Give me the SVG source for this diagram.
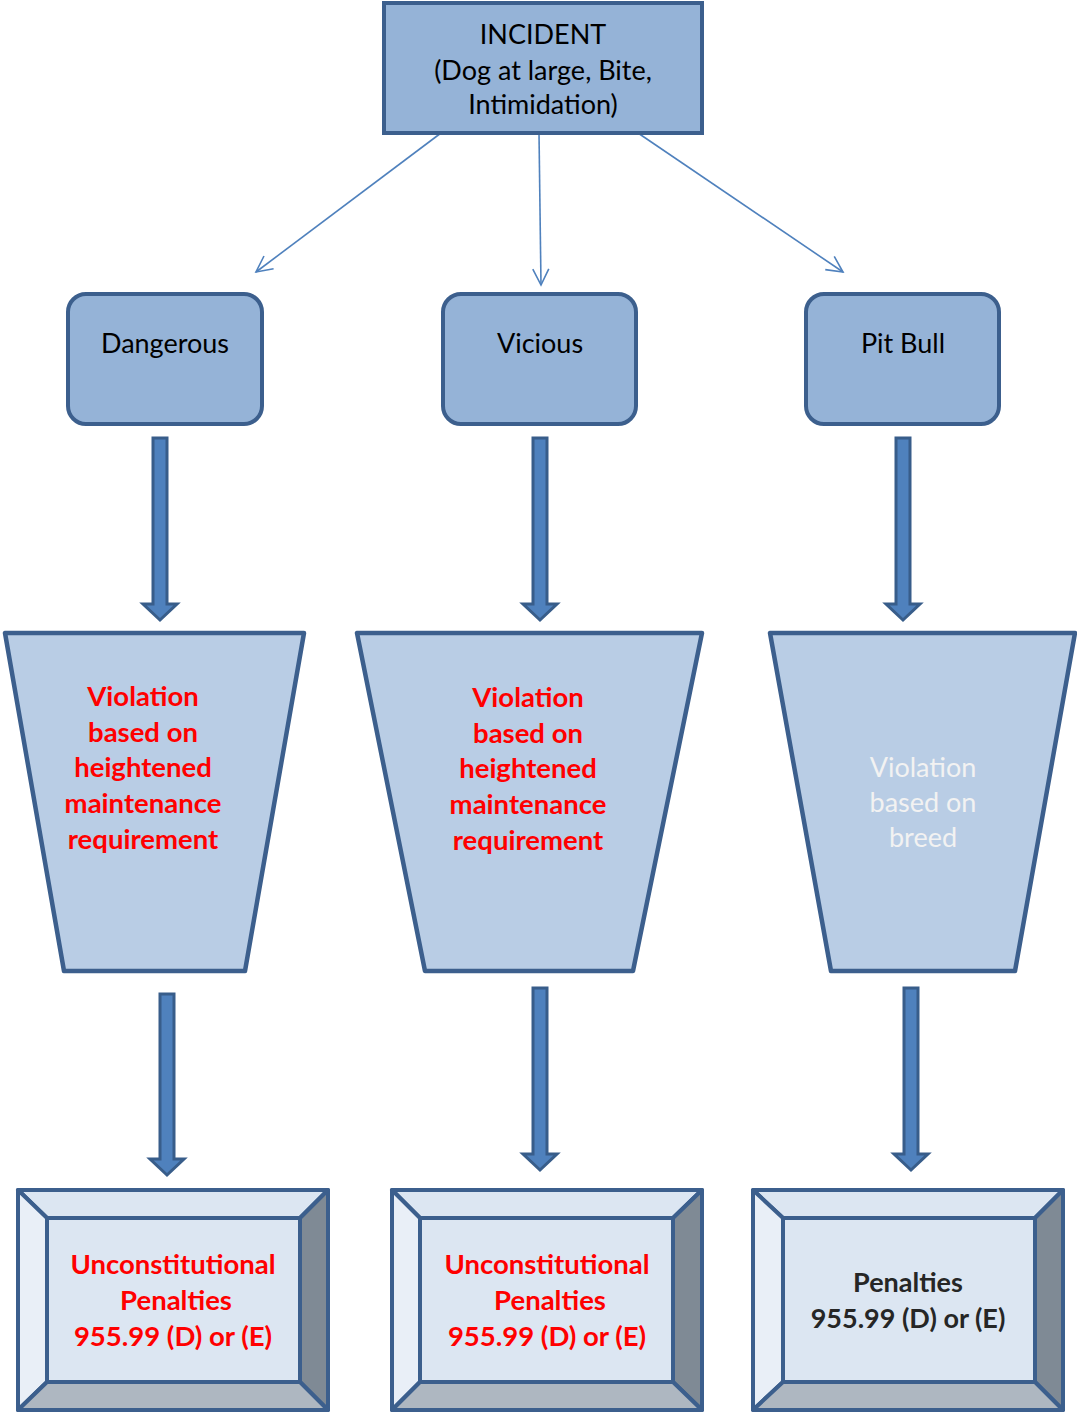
<svg xmlns="http://www.w3.org/2000/svg" width="1077" height="1414" viewBox="0 0 1077 1414">
<defs>
<style>
.t{font-family:Lato,"Open Sans","Liberation Sans",sans-serif;text-anchor:middle}
.blk{font-size:27px;fill:#000}
.red{font-size:27.5px;font-weight:bold;fill:#FF0000}
.wht{font-size:27px;fill:#F2F2F2}
.drk{font-size:27px;font-weight:bold;fill:#262626}
.box{fill:#95B3D7;stroke:#3C5F8D;stroke-width:4}
.trap{fill:#B9CDE5;stroke:#3C5F8D;stroke-width:4.5;stroke-linejoin:round}
.conn{stroke:#4F81BD;stroke-width:1.6;fill:none}
.barrow{fill:#4F81BD;stroke:#385D8A;stroke-width:3}
.bev{stroke:#3C5F8D;stroke-width:4;stroke-linejoin:round}
</style>
<marker id="open" viewBox="0 0 20 20" refX="18" refY="10" markerWidth="20" markerHeight="20" markerUnits="userSpaceOnUse" orient="auto">
<path d="M2,2 L18,10 L2,18" fill="none" stroke="#4F81BD" stroke-width="1.6"/>
</marker>
</defs>
<rect width="1077" height="1414" fill="#fff"/>

<g id="connectors">
<line class="conn" x1="441" y1="133" x2="256" y2="272" marker-end="url(#open)"/>
<line class="conn" x1="539" y1="133" x2="541" y2="285" marker-end="url(#open)"/>
<line class="conn" x1="638" y1="133" x2="843" y2="272" marker-end="url(#open)"/>
<path class="barrow" d="M153,438 H167 V604 H177 L160,620 L143,604 H153 Z"/>
<path class="barrow" d="M533,438 H547 V604 H557 L540,620 L523,604 H533 Z"/>
<path class="barrow" d="M896,438 H910 V604 H920 L903,620 L886,604 H896 Z"/>
<path class="barrow" d="M160,994 H174 V1159 H184 L167,1175 L150,1159 H160 Z"/>
<path class="barrow" d="M533,988 H547 V1154 H557 L540,1170 L523,1154 H533 Z"/>
<path class="barrow" d="M904,988 H918 V1154 H928 L911,1170 L894,1154 H904 Z"/>
</g>

<g id="incident">
<rect class="box" x="384" y="3" width="318" height="130"/>
<text class="t blk" x="543" y="44">INCIDENT</text>
<text class="t blk" x="543" y="80">(Dog at large, Bite,</text>
<text class="t blk" x="543" y="114">Intimidation)</text>
</g>

<g id="dangerous">
<rect class="box" x="68" y="294" width="194" height="130" rx="18"/>
<text class="t blk" x="165" y="353">Dangerous</text>
</g>
<g id="vicious">
<rect class="box" x="443" y="294" width="193" height="130" rx="18"/>
<text class="t blk" x="540" y="353">Vicious</text>
</g>
<g id="pitbull">
<rect class="box" x="806" y="294" width="193" height="130" rx="18"/>
<text class="t blk" x="903" y="353">Pit Bull</text>
</g>

<g id="violation1">
<path class="trap" d="M5,633 H304 L245,971 H64 Z"/>
<text class="t red" x="143" y="706">Violation</text>
<text class="t red" x="143" y="742">based on</text>
<text class="t red" x="143" y="777">heightened</text>
<text class="t red" x="143" y="813">maintenance</text>
<text class="t red" x="143" y="849">requirement</text>
</g>
<g id="violation2">
<path class="trap" d="M357,633 H702 L633,971 H425 Z"/>
<text class="t red" x="528" y="707">Violation</text>
<text class="t red" x="528" y="743">based on</text>
<text class="t red" x="528" y="778">heightened</text>
<text class="t red" x="528" y="814">maintenance</text>
<text class="t red" x="528" y="850">requirement</text>
</g>
<g id="violation3">
<path class="trap" d="M770,633 H1075 L1015,971 H831 Z"/>
<text class="t wht" x="923" y="777">Violation</text>
<text class="t wht" x="923" y="812">based on</text>
<text class="t wht" x="923" y="847">breed</text>
</g>

<g id="penalty1">
<path class="bev" fill="#DCE6F2" d="M18,1190 H328 L300,1218 H47 Z"/>
<path class="bev" fill="#E9EFF7" d="M18,1190 L47,1218 V1382 L18,1410 Z"/>
<path class="bev" fill="#7F8A95" d="M328,1190 V1410 L300,1382 V1218 Z"/>
<path class="bev" fill="#AEB7C1" d="M18,1410 L47,1382 H300 L328,1410 Z"/>
<rect class="bev" fill="#DCE6F2" x="47" y="1218" width="253" height="164"/>
<text class="t red" x="173" y="1274">Unconstitutional</text>
<text class="t red" x="176" y="1310">Penalties</text>
<text class="t red" x="173" y="1346">955.99 (D) or (E)</text>
</g>
<g id="penalty2">
<path class="bev" fill="#DCE6F2" d="M392,1190 H702 L673,1218 H420 Z"/>
<path class="bev" fill="#E9EFF7" d="M392,1190 L420,1218 V1382 L392,1410 Z"/>
<path class="bev" fill="#7F8A95" d="M702,1190 V1410 L673,1382 V1218 Z"/>
<path class="bev" fill="#AEB7C1" d="M392,1410 L420,1382 H673 L702,1410 Z"/>
<rect class="bev" fill="#DCE6F2" x="420" y="1218" width="253" height="164"/>
<text class="t red" x="547" y="1274">Unconstitutional</text>
<text class="t red" x="550" y="1310">Penalties</text>
<text class="t red" x="547" y="1346">955.99 (D) or (E)</text>
</g>
<g id="penalty3">
<path class="bev" fill="#DCE6F2" d="M753,1190 H1063 L1035,1218 H783 Z"/>
<path class="bev" fill="#E9EFF7" d="M753,1190 L783,1218 V1382 L753,1410 Z"/>
<path class="bev" fill="#7F8A95" d="M1063,1190 V1410 L1035,1382 V1218 Z"/>
<path class="bev" fill="#AEB7C1" d="M753,1410 L783,1382 H1035 L1063,1410 Z"/>
<rect class="bev" fill="#DCE6F2" x="783" y="1218" width="252" height="164"/>
<text class="t drk" x="908" y="1292">Penalties</text>
<text class="t drk" x="908" y="1328">955.99 (D) or (E)</text>
</g>
</svg>
